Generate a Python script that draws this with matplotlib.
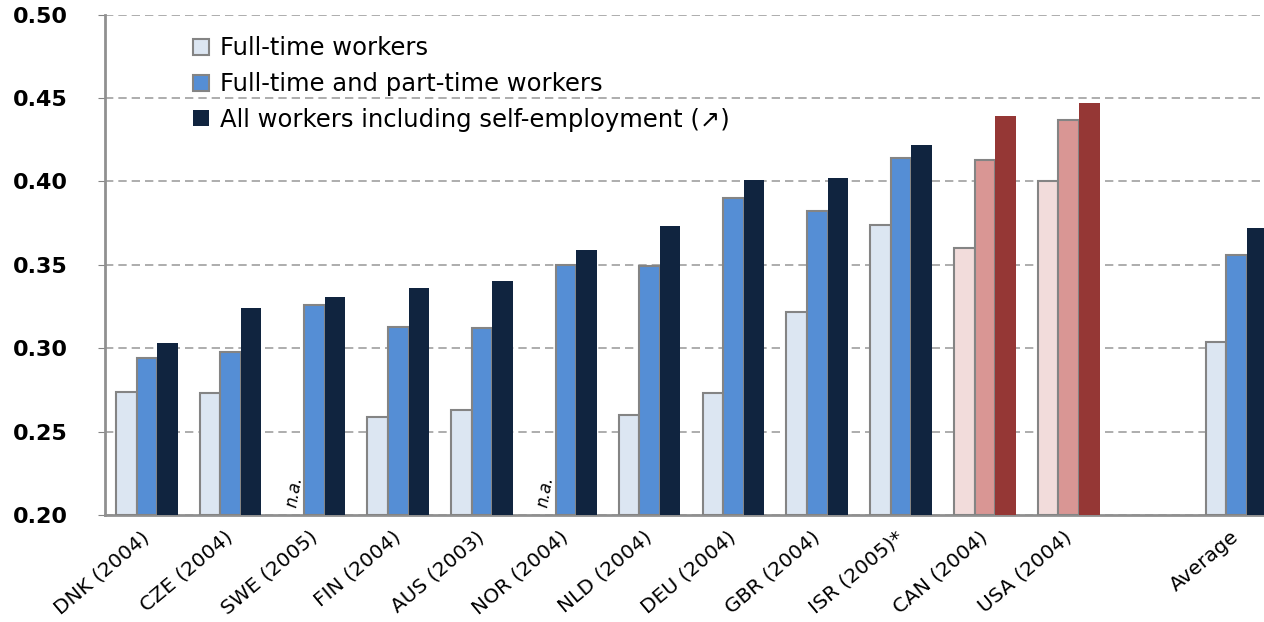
import numpy as np
import matplotlib.pyplot as plt
import matplotlib.transforms as mtransforms

plt.rcParams['font.family'] = ['DejaVu Sans']

# countries (index 12 left empty before the average)
countries = ['DNK (2004)', 'CZE (2004)', 'SWE (2005)', 'FIN (2004)', 'AUS (2003)',
             'NOR (2004)', 'NLD (2004)', 'DEU (2004)', 'GBR (2004)', 'ISR (2005)*',
             'CAN (2004)', 'USA (2004)', 'Average']
positions = [0, 1, 2, 3, 4, 5, 6, 7, 8, 9, 10, 11, 13]

full_time = [0.274, 0.273, np.nan, 0.259, 0.263, np.nan, 0.260, 0.273, 0.322,
             0.374, 0.360, 0.400, 0.304]
full_part = [0.294, 0.298, 0.326, 0.313, 0.312, 0.350, 0.349, 0.390, 0.382,
             0.414, 0.413, 0.437, 0.356]
all_workers = [0.303, 0.324, 0.331, 0.336, 0.340, 0.359, 0.373, 0.401, 0.402,
               0.422, 0.439, 0.447, 0.372]

highlight = ['CAN (2004)', 'USA (2004)']

blue_cols = ['#dce6f2', '#558ed5', '#10243f']
red_cols = ['#f2dcdb', '#d99694', '#953735']
edge = '#848484'

fig = plt.figure(figsize=(12.64, 6.22), dpi=100)
ax = fig.add_axes([0.083, 0.172, 0.917, 0.8045])

w = 0.245
for series_i, vals in enumerate([full_time, full_part, all_workers]):
    for c, p, v in zip(countries, positions, vals):
        if np.isnan(v):
            continue
        cols = red_cols if c in highlight else blue_cols
        ec = 'none' if series_i == 2 else edge
        ax.bar(p + (series_i - 1) * w, v - 0.2, bottom=0.2, width=w,
               color=cols[series_i], edgecolor=ec, linewidth=1.5, zorder=3)

# missing full-time series
for c, p, v in zip(countries, positions, full_time):
    if np.isnan(v):
        ax.text(p - w, 0.204, 'n.a.', rotation=80, style='italic',
                fontsize=12, ha='center', va='bottom', zorder=4)

ax.set_ylim(0.20, 0.50)
ax.set_xlim(-0.5, 13.33)
ax.set_yticks(np.arange(0.20, 0.501, 0.05))
ax.set_yticklabels(['%.2f' % t for t in np.arange(0.20, 0.501, 0.05)],
                   fontsize=16, fontweight='bold')
ax.yaxis.grid(True, linestyle=(0, (5, 3)), color='#a0a0a0', linewidth=1.2, zorder=0)
ax.tick_params(axis='y', length=5, color=edge, pad=22)

ax.set_xticks(positions)
ax.set_xticklabels(countries, rotation=40, ha='right', rotation_mode='anchor',
                   fontsize=14.5)
ax.tick_params(axis='x', length=0, pad=9)
shift = mtransforms.ScaledTranslation(-6 / 100, 0, fig.dpi_scale_trans)
for lbl in ax.get_xticklabels():
    lbl.set_transform(lbl.get_transform() + shift)

for s in ['top', 'right']:
    ax.spines[s].set_visible(False)
for s in ['left', 'bottom']:
    ax.spines[s].set_color('#909090')
    ax.spines[s].set_linewidth(2)

handles = [plt.Rectangle((0, 0), 1, 1, facecolor=blue_cols[0], edgecolor=edge, linewidth=1.5),
           plt.Rectangle((0, 0), 1, 1, facecolor=blue_cols[1], edgecolor=edge, linewidth=1.5),
           plt.Rectangle((0, 0), 1, 1, facecolor=blue_cols[2], edgecolor='none')]
labels = ['Full-time workers', 'Full-time and part-time workers',
          'All workers including self-employment (\u2197)']
ax.legend(handles, labels, loc='upper left', bbox_to_anchor=(0.057, 1.0),
          frameon=False, fontsize=17.5, handlelength=0.65, handleheight=0.65,
          handletextpad=0.45, labelspacing=0.48)

fig.savefig('out.png', dpi=100)
